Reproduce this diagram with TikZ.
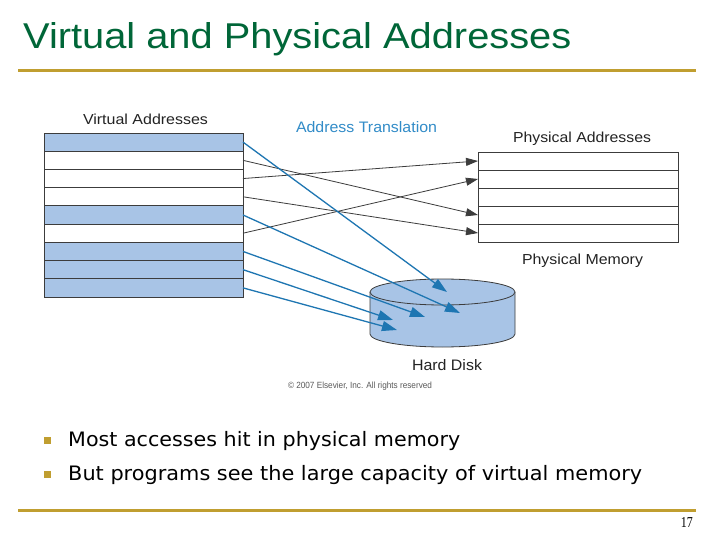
\documentclass[tikz,border=0pt]{standalone}
\usepackage{fontspec}
\setmainfont{Liberation Sans}
\newfontfamily\bulletfont{DejaVu Sans}
\newfontfamily\numfont{Liberation Serif}
\usetikzlibrary{arrows.meta}
\definecolor{titlegreen}{RGB}{0,102,56}
\definecolor{gold}{RGB}{192,158,48}
\definecolor{rowblue}{RGB}{168,196,230}
\definecolor{linkblue}{RGB}{30,118,178}
\definecolor{labelblue}{RGB}{50,140,200}
\definecolor{edgegray}{RGB}{60,60,60}
\definecolor{labeltext}{RGB}{35,35,35}
\begin{document}
\begin{tikzpicture}[x=1pt,y=-1pt,
  lbl/.style={anchor=base west, inner sep=0pt, outer sep=0pt, text=labeltext},
  vrow/.style={draw=edgegray, line width=0.8pt, minimum width=199pt, minimum height=18.22pt, inner sep=0pt, outer sep=0pt, anchor=north west},
  prow/.style={draw=edgegray, line width=0.8pt, fill=white, minimum width=200pt, minimum height=18pt, inner sep=0pt, outer sep=0pt, anchor=north west},
  blackarrow/.style={draw=edgegray, line width=0.8pt, -{Triangle[length=12pt,width=8pt]}},
  bluearrow/.style={draw=linkblue, line width=1.3pt, -{Triangle[length=15pt,width=10pt]}},
  rule/.style={draw=gold, line width=3pt}
]
\useasboundingbox (0,0) rectangle (720,540);
\fill[white] (0,0) rectangle (720,540);

% title and rules
\node[anchor=base west, inner sep=0pt, text=titlegreen] (title) at (23,49) {\resizebox{548pt}{26pt}{Virtual and Physical Addresses}};
\draw[rule] (18,70.5) -- (696,70.5);
\draw[rule] (18,510) -- (696,510);
\node[anchor=base east, inner sep=0pt, text=black] (pagenum) at (693,527) {\numfont\resizebox{12pt}{10pt}{17}};

% virtual address table
\foreach \i/\f in {1/rowblue,2/white,3/white,4/white,5/rowblue,6/white,7/rowblue,8/rowblue,9/rowblue}
  \node[vrow, fill=\f] (v\i) at (44,{133+18.22*(\i-1)}) {};
% physical address table
\foreach \i in {1,...,5}
  \node[prow] (p\i) at (478,{152+18*(\i-1)}) {};

% labels
\node[lbl] (vlabel) at (83,125) {\resizebox{125pt}{10.5pt}{Virtual Addresses}};
\node[lbl, text=labelblue] (tlabel) at (296,133) {\resizebox{141pt}{11pt}{Address Translation}};
\node[lbl] (plabel) at (513,143) {\resizebox{138pt}{10.5pt}{Physical Addresses}};
\node[lbl] (mlabel) at (522,264) {\resizebox{121pt}{10.5pt}{Physical Memory}};
\node[lbl] (dlabel) at (412,370) {\resizebox{70pt}{11pt}{Hard Disk}};
\node[lbl, text=black!65] (copy) at (288,388) {\resizebox{144pt}{6.5pt}{© 2007 Elsevier, Inc. All rights reserved}};

% hard disk
\path[fill=rowblue] (370,292) -- (370,334) arc[start angle=180, end angle=360, x radius=72.5pt, y radius=13pt] -- (515,292) -- cycle;
\draw[edgegray, line width=0.8pt] (370,292) -- (370,334) arc[start angle=180, end angle=360, x radius=72.5pt, y radius=13pt] -- (515,292);
\draw[edgegray, line width=0.8pt, fill=rowblue] (442.5,292) ellipse[x radius=72.5pt, y radius=13pt];

\coordinate (d1) at (447,292);
\coordinate (d2) at (460,313);
\coordinate (d3) at (425,317);
\coordinate (d4) at (393,320);
\coordinate (d5) at (397,330);

% translation arrows
\draw[blackarrow] (v2.east) -- (p4.west);
\draw[blackarrow] (v3.east) -- (p1.west);
\draw[blackarrow] (v4.east) -- (p5.west);
\draw[blackarrow] (v6.east) -- (p2.west);

\draw[bluearrow] (v1.east) -- (d1);
\draw[bluearrow] (v5.east) -- (d2);
\draw[bluearrow] (v7.east) -- (d3);
\draw[bluearrow] (v8.east) -- (d4);
\draw[bluearrow] (v9.east) -- (d5);

% bullets
\fill[gold] (44,436.5) rectangle (51,443.5);
\fill[gold] (44,471) rectangle (51,478);
\node[anchor=base west, inner sep=0pt, text=black] (b1) at (68,446) {\bulletfont\resizebox{392pt}{15.1pt}{Most accesses hit in physical memory}};
\node[anchor=base west, inner sep=0pt, text=black] (b2) at (68,480) {\bulletfont\resizebox{574pt}{15.1pt}{But programs see the large capacity of virtual memory}};
\end{tikzpicture}
\end{document}
